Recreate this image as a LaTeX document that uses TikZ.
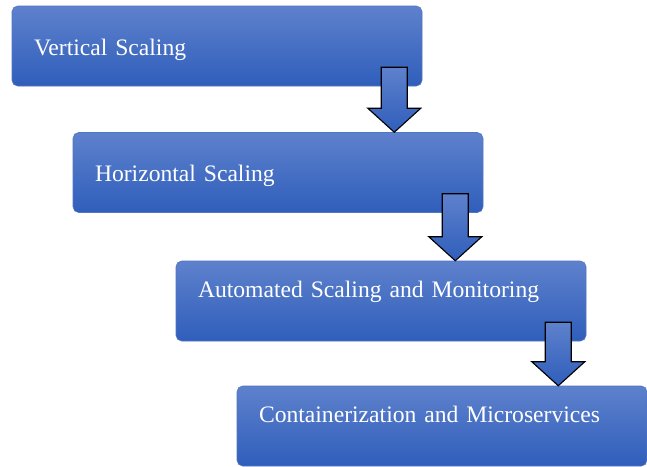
\documentclass[tikz,border=0pt]{standalone}
\usepackage{fontspec}
\setmainfont{Liberation Serif}
\usetikzlibrary{calc}

\definecolor{boxtop}{RGB}{94,129,204}
\definecolor{boxbottom}{RGB}{47,94,187}
\definecolor{boxline}{RGB}{82,117,194}

% block arrow from the box above (#1) down to the box below (#2)
\newcommand{\stagearrow}[2]{%
  \coordinate (#1-top) at ($(#1.south east)+(-0.7,0.475)$);
  \coordinate (#1-tip) at (#1-top |- #2.north);
  \draw[blockarrow] ($(#1-top)+(-0.325,0)$) -- ($(#1-top)+(0.325,0)$)
    -- ($(#1-tip)+(0.325,0.6)$) -- ($(#1-tip)+(0.6625,0.6)$) -- (#1-tip)
    -- ($(#1-tip)+(-0.6625,0.6)$) -- ($(#1-tip)+(-0.325,0.6)$) -- cycle;
}

\begin{document}
\begin{tikzpicture}[
          stagebox/.style={rectangle, draw=boxline, top color=boxtop, bottom color=boxbottom, rounded corners=4pt,
            minimum width=10.25cm, minimum height=2cm, text width=9.15cm, inner xsep=0.55cm, align=left,
            text=white, font=\fontsize{16.8}{20}\selectfont, text height=0.47cm, text depth=0cm},
          raised/.style={text depth=0.66cm},
          blockarrow/.style={draw=black, line width=0.8pt, line join=miter, top color=boxtop, bottom color=boxbottom}
        ]
        \useasboundingbox (0,0) rectangle (16.175,-11.65);

        % ----------------------------------------------------
        % STAGES
        % ----------------------------------------------------
        \node (vertical) at (5.425, -1.15) [stagebox] {Vertical Scaling};
        \node (horizontal) at (6.95, -4.3125) [stagebox] {Horizontal Scaling};
        \node (automated) at (9.525, -7.525) [stagebox, raised] {Automated Scaling and Monitoring};
        \node (container) at (11.05, -10.65) [stagebox, raised] {Containerization and Microservices};

        % ----------------------------------------------------
        % ARROWS
        % ----------------------------------------------------
        \stagearrow{vertical}{horizontal}
        \stagearrow{horizontal}{automated}
        \stagearrow{automated}{container}
      \end{tikzpicture}
\end{document}
